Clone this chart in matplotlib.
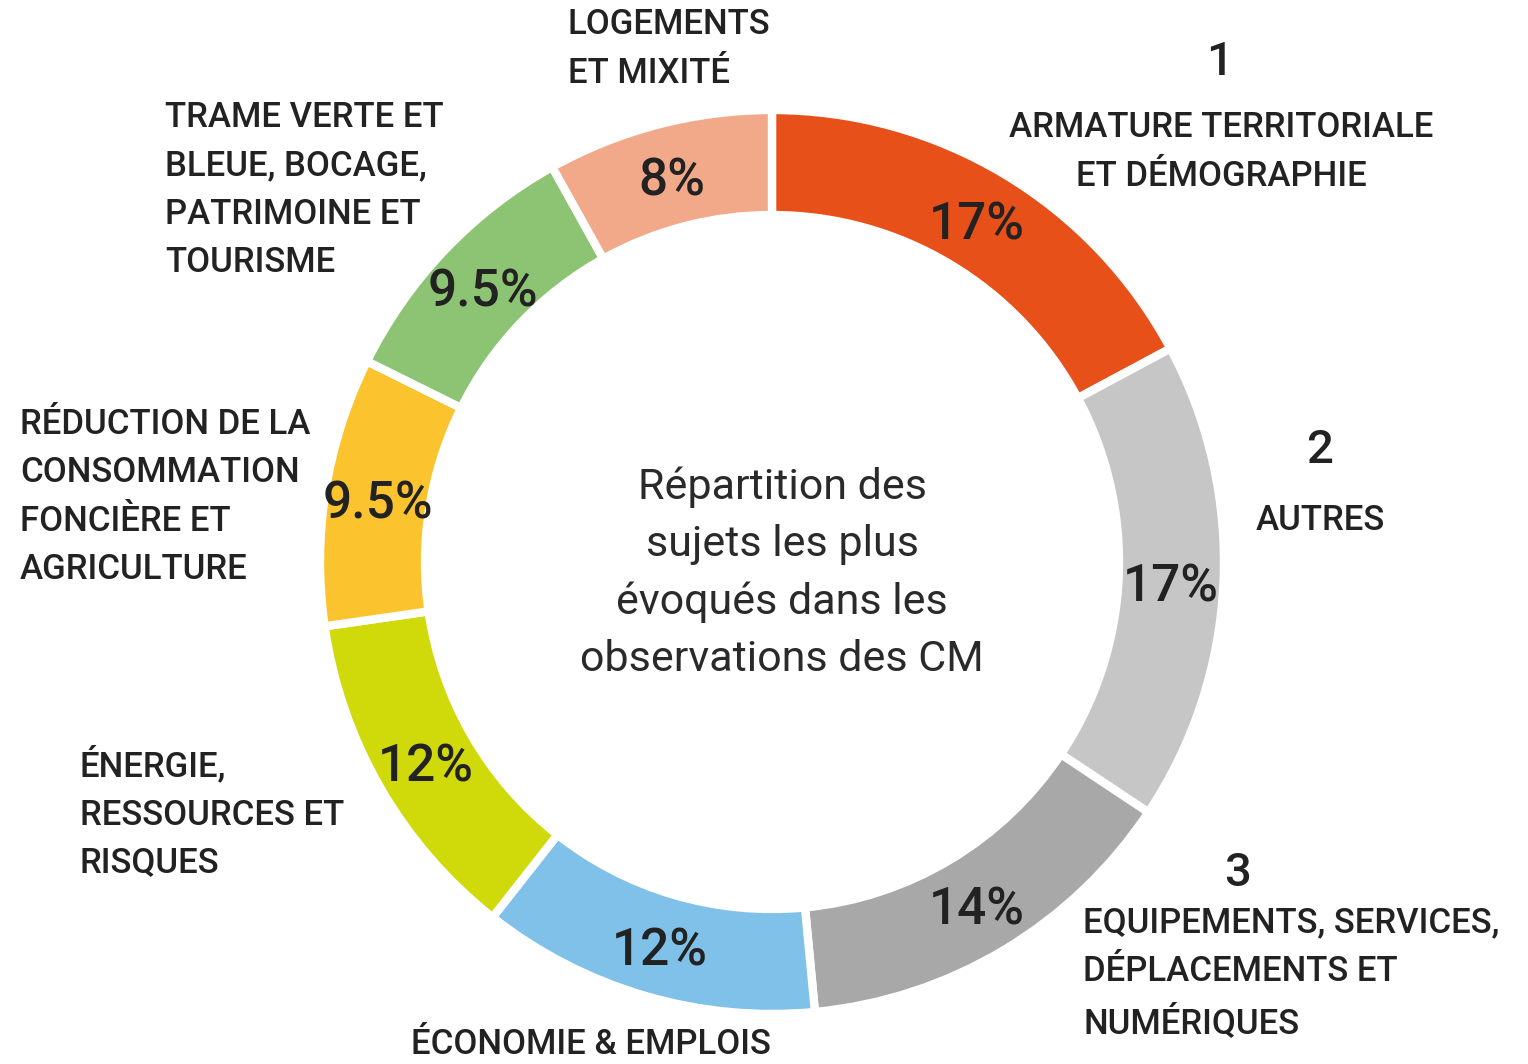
import matplotlib.pyplot as plt
import numpy as np

# Данные диаграммы (по часовой стрелке, начиная сверху)
values = [17, 17, 14, 12, 12, 9.5, 9.5, 8]
pct_labels = ['17%', '17%', '14%', '12%', '12%', '9.5%', '9.5%', '8%']
colors = ['#E85019', '#C6C6C6', '#A8A8A8', '#80C1EA',
          '#D0D90A', '#FBC32D', '#8DC474', '#F2A98A']

categories = [
    'ARMATURE TERRITORIALE\nET DÉMOGRAPHIE',
    'AUTRES',
    'EQUIPEMENTS, SERVICES,\nDÉPLACEMENTS ET\nNUMÉRIQUES',
    'ÉCONOMIE & EMPLOIS',
    'ÉNERGIE,\nRESSOURCES ET\nRISQUES',
    'RÉDUCTION DE LA\nCONSOMMATION\nFONCIÈRE ET\nAGRICULTURE',
    'TRAME VERTE ET\nBLEUE, BOCAGE,\nPATRIMOINE ET\nTOURISME',
    'LOGEMENTS\nET MIXITÉ',
]
ranks = ['1', '2', '3', '', '', '', '', '']
center_text = 'Répartition des\nsujets les plus\névoqués dans les\nobservations des CM'

W, H = 1528, 1064
TXT = '#222222'

plt.rcParams['font.family'] = ['Roboto', 'DejaVu Sans']


def main():
    fig = plt.figure(figsize=(W / 100, H / 100), dpi=100)
    ax = fig.add_axes([0, 0, 1, 1])

    cx, cy = 772, H - 562
    R, ring = 452, 105
    wedges, _ = ax.pie(values, colors=colors, startangle=90, counterclock=False,
                       radius=R, center=(cx, cy),
                       wedgeprops=dict(width=ring, edgecolor='white', linewidth=6))
    ax.set_xlim(0, W)
    ax.set_ylim(0, H)
    ax.set_aspect('equal')
    ax.axis('off')

    # проценты в середине кольца
    rm = R - ring / 2
    for w, lab in zip(wedges, pct_labels):
        a = np.deg2rad((w.theta1 + w.theta2) / 2)
        ax.text(cx + rm * np.cos(a), cy + rm * np.sin(a) - 6, lab,
                ha='center', va='center', fontsize=37, color=TXT,
                fontweight='medium')

    def lab(x, y, s, ha='left', size=25):
        ax.text(x, H - y, s, ha=ha, va='center', fontsize=size, color=TXT,
                fontweight='medium', linespacing=1.59)

    # подписи категорий
    lab(1220, 62, ranks[0], ha='center', size=34)
    lab(1221, 152, categories[0], ha='center')
    lab(1320, 450, ranks[1], ha='center', size=34)
    lab(1320, 520, categories[1], ha='center')
    lab(1238, 873, ranks[2], ha='center', size=34)
    lab(1083, 974, categories[2])
    lab(411, 1045, categories[3])
    lab(80, 813, categories[4])
    lab(20, 497, categories[5])
    lab(165, 190, categories[6])
    lab(568, 49, categories[7])

    ax.text(782, H - 573, center_text, ha='center', va='center', fontsize=31,
            color='#2a2a2a', fontweight='normal', linespacing=1.5)

    fig.savefig('out.png', dpi=100)


if __name__ == '__main__':
    main()
